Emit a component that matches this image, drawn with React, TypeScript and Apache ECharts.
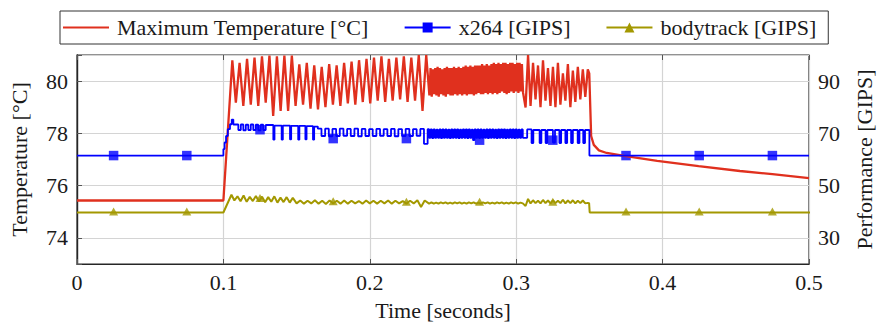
import React, { useEffect, useRef } from 'react';
import * as echarts from 'echarts';

// ---------- data (time in seconds) ----------
// Maximum temperature [°C] (left axis)
const TEMP_IDLE: [number, number][] = [[0, 75.43], [0.1, 75.43], [0.1061, 80.8]];
const TEMP_ZIG_A_START = 0.1085;
const TEMP_ZIG_A_STEP = 0.00255;
const TEMP_ZIG_A = [
  79.18, 80.7, 79.05, 80.85, 79.1, 80.9, 79.05, 80.95, 79.18, 80.98,
  78.67, 80.95, 78.86, 80.98, 78.86, 80.98, 79.05, 80.64, 79.1, 80.7,
  78.95, 80.6, 78.92, 80.55, 79.0, 80.65, 79.1, 80.6, 79.05, 80.7,
  79.15, 80.75, 79.1, 80.8, 79.2, 80.85, 79.15, 80.9, 79.25, 80.95,
  79.2, 80.85, 79.25, 80.9, 79.3, 80.95, 79.2, 80.9, 79.25, 81.0,
  78.86, 81.0,
];
const TEMP_DENSE_START = 0.2407;
const TEMP_DENSE_STEP = 0.0008;
const TEMP_DENSE = [
  79.45, 80.5, 79.4, 80.45, 79.5, 80.5, 79.45, 80.55, 79.4, 80.5,
  79.5, 80.45, 79.45, 80.5, 79.4, 80.55, 79.5, 80.5, 79.45, 80.5,
  79.45, 80.55, 79.5, 80.5, 79.45, 80.55, 79.5, 80.5, 79.45, 80.55,
  79.5, 80.6, 79.45, 80.55, 79.5, 80.6, 79.5, 80.55, 79.45, 80.6,
  79.5, 80.6, 79.55, 80.6, 79.5, 80.65, 79.5, 80.6, 79.55, 80.65,
  79.5, 80.6, 79.55, 80.65, 79.5, 80.7, 79.55, 80.65, 79.5, 80.7,
  79.55, 80.65, 79.6, 80.7, 79.55, 80.7, 79.5, 80.65, 79.55, 80.7,
  79.6, 80.7, 79.55, 80.65, 79.6, 80.7, 79.55, 80.7, 79.6, 80.65,
  79.55,
];
const TEMP_ZIG_C_START = 0.3064;
const TEMP_ZIG_C_STEP = 0.0017;
const TEMP_ZIG_C = [
  78.99, 81.0, 79.05, 80.7, 79.3, 80.6, 79.0, 80.8, 79.25, 80.5,
  79.05, 80.55, 79.0, 80.7, 79.1, 80.3, 79.25, 80.65, 79.0, 80.4,
  79.2, 80.55, 79.3, 80.45, 79.4, 80.45,
];
const TEMP_COOL: [number, number][] = [
  [0.3499, 80.3], [0.3512, 77.9], [0.353, 77.56], [0.3565, 77.35], [0.3618, 77.25],
  [0.3738, 77.14], [0.3963, 76.95], [0.4246, 76.75], [0.4528, 76.56], [0.475, 76.44], [0.5, 76.29],
];

// x264 performance [GIPS] (right axis, sample-and-hold)
const X264_START: [number, number][] = [
  [0, 61.5], [0.1, 64], [0.1008, 66.5], [0.1018, 69], [0.103, 71.6],
  [0.1045, 73.5], [0.1057, 75.3], [0.1068, 73.4],
];
const X264_A_START = 0.1085;
const X264_A_STEP = 0.0017;
const X264_A = [73.4, 71.3, 73.4, 71.2, 73.3, 71.3, 73.4, 71.3, 73.3, 71.2, 73.3, 71.3, 73.2];
const X264_B: [number, number][] = [
  [0.1341, 67.6], [0.1349, 73.0], [0.1398, 67.6], [0.1406, 73.0], [0.1455, 67.7], [0.1463, 72.9],
  [0.1511, 67.6], [0.1519, 72.9], [0.156, 67.7], [0.1568, 72.8], [0.1612, 67.6], [0.162, 72.6],
];
const X264_C_START = 0.1645;
const X264_C_STEP = 0.0025;
const X264_C = [
  71.8, 69.0, 71.8, 68.9, 71.7, 69.0, 71.8, 69.1, 71.7, 69.0,
  71.8, 68.9, 71.7, 69.0, 71.6, 69.0, 71.7, 69.1, 71.6, 69.0,
  71.7, 68.9, 71.6, 69.0, 71.7, 69.0, 71.6, 69.1, 71.7, 66.0,
  71.6,
];
const X264_DENSE_START = 0.2405;
const X264_DENSE_STEP = 0.001;
const X264_DENSE = [
  68.3, 71.5, 68.2, 71.5, 68.3, 71.4, 68.3, 71.5, 68.2, 71.5,
  68.3, 71.5, 68.3, 71.4, 68.2, 71.5, 68.3, 71.5, 68.3, 71.5,
  68.2, 71.4, 68.3, 71.5, 68.3, 71.5, 68.2, 71.5, 68.3, 71.4,
  67.4, 71.5, 68.3, 71.5, 68.2, 71.5, 68.3, 71.4, 68.3, 71.5,
  68.2, 71.5, 68.3, 71.5, 68.3, 71.4, 68.2, 71.5, 68.3, 71.5,
  68.3, 71.5, 68.2, 71.4, 68.3, 71.5, 68.3, 71.5, 68.2, 71.5,
  68.3, 71.4, 68.3, 71.5, 68.3,
];
const X264_END: [number, number][] = [
  [0.3055, 68.3], [0.3075, 71.5], [0.3105, 66.3], [0.3117, 71.3], [0.316, 66.3], [0.3172, 71.3],
  [0.3201, 66.3], [0.3213, 71.3], [0.3251, 66.5], [0.3265, 71.3], [0.3295, 66.3], [0.3307, 71.3],
  [0.3336, 66.3], [0.3348, 71.3], [0.3375, 66.3], [0.3387, 71.3], [0.342, 66.3], [0.3432, 71.3],
  [0.3458, 66.3], [0.347, 71.3], [0.35, 61.5], [0.5, 61.5],
];

// bodytrack performance [GIPS] (right axis)
const BODY_START: [number, number][] = [[0, 39.7], [0.1, 39.7], [0.1055, 46.5]];
const BODY_A_START = 0.1075;
const BODY_A_STEP = 0.0021;
const BODY_A = [
  44.3, 45.9, 44.0, 46.2, 43.8, 45.7, 44.1, 46.0, 43.9, 45.8,
  43.6, 45.6, 43.8, 45.9, 43.5, 45.4, 43.7, 45.6, 43.5, 45.3,
];
const BODY_B_START = 0.15;
const BODY_B_STEP = 0.0025;
const BODY_B = [
  43.2, 44.3, 43.1, 44.2, 43.2, 44.4, 43.1, 44.2, 43.0, 44.3,
  43.2, 44.2, 43.1, 44.3, 43.1, 44.2, 43.2, 44.1, 43.1, 44.3,
  43.2, 44.2, 43.1, 44.2, 43.2, 44.3, 43.1, 44.2, 43.2, 44.1,
  43.1, 44.2, 43.2, 44.4, 41.8, 44.3,
];
const BODY_DENSE_START = 0.2405;
const BODY_DENSE_STEP = 0.0016;
const BODY_DENSE = [
  43.1, 43.6, 43.1, 43.5, 43.1, 43.6, 43.2, 43.6, 43.1, 43.5,
  43.1, 43.6, 43.2, 43.6, 43.1, 43.5, 43.1, 43.6, 43.2, 43.6,
  43.1, 43.5, 43.1, 43.6, 43.2, 43.6, 43.1, 43.5, 43.1, 43.6,
  43.2, 43.6, 43.1, 43.5, 43.1, 43.6, 43.2, 43.6, 43.1, 43.5,
  43.2,
];
const BODY_C_START = 0.3064;
const BODY_C_STEP = 0.0017;
const BODY_C = [
  42.2, 44.9, 43.2, 44.4, 43.3, 44.2, 43.2, 44.5, 43.3, 44.3,
  43.2, 44.4, 43.3, 44.2, 43.3, 44.6, 43.2, 44.3, 43.3, 44.4,
  43.2, 44.2, 43.3, 44.3, 43.2, 43.4,
];
const BODY_END: [number, number][] = [[0.3498, 43.3], [0.3502, 39.7], [0.509, 39.7]];

// plot marks
const MARK_T = [0.025, 0.075, 0.125, 0.175, 0.225, 0.275, 0.325, 0.375, 0.425, 0.475];
const X264_MARK = [61.5, 61.5, 71.4, 68.0, 68.0, 67.4, 67.4, 61.5, 61.5, 61.5];
const BODY_MARK = [39.7, 39.7, 44.9, 43.6, 43.4, 43.4, 43.4, 39.7, 39.7, 39.7];

const NAMES = ['Maximum Temperature [°C]', 'x264 [GIPS]', 'bodytrack [GIPS]'];

// ---------- helpers ----------
const sampled = (start: number, step: number, values: number[]): [number, number][] =>
  values.map((v, i) => [Math.round((start + i * step) * 1e6) / 1e6, v]);

const FONT = 'Liberation Serif';
const RED = '#e0301e';
const BLUE = '#0000ff';
const OLIVE = '#a39800';

export default function App() {
  const ref = useRef<HTMLDivElement>(null);
  useEffect(() => {
    const chart = echarts.init(ref.current!, null, { renderer: 'svg' });

    const tempData = [
      ...TEMP_IDLE,
      ...sampled(TEMP_ZIG_A_START, TEMP_ZIG_A_STEP, TEMP_ZIG_A),
      ...sampled(TEMP_DENSE_START, TEMP_DENSE_STEP, TEMP_DENSE),
      ...sampled(TEMP_ZIG_C_START, TEMP_ZIG_C_STEP, TEMP_ZIG_C),
      ...TEMP_COOL,
    ];
    const x264Data = [
      ...X264_START,
      ...sampled(X264_A_START, X264_A_STEP, X264_A),
      ...X264_B,
      ...sampled(X264_C_START, X264_C_STEP, X264_C),
      ...sampled(X264_DENSE_START, X264_DENSE_STEP, X264_DENSE),
      ...X264_END,
    ];
    const bodyData = [
      ...BODY_START,
      ...sampled(BODY_A_START, BODY_A_STEP, BODY_A),
      ...sampled(BODY_B_START, BODY_B_STEP, BODY_B),
      ...sampled(BODY_DENSE_START, BODY_DENSE_STEP, BODY_DENSE),
      ...sampled(BODY_C_START, BODY_C_STEP, BODY_C),
      ...BODY_END,
    ];

    const labelStyle = { fontFamily: FONT, fontSize: 22, color: '#1a1a1a' };

    chart.setOption({
      animation: false,
      backgroundColor: '#ffffff',
      textStyle: { fontFamily: FONT },
      grid: {
        left: 75, right: 70, top: 55, bottom: 61,
        show: true, borderColor: '#262626', borderWidth: 1.2, backgroundColor: 'transparent',
      },
      legend: {
        data: [
          { name: NAMES[0], itemStyle: { opacity: 0 } },
          { name: NAMES[1] },
          { name: NAMES[2] },
        ],
        left: 60, top: 11,
        itemWidth: 46, itemHeight: 12.5, itemGap: 35,
        padding: [5.5, 12, 5.5, 2],
        borderColor: '#333', borderWidth: 1,
        textStyle: { ...labelStyle, padding: [0, 0, 0, 3] },
      },
      xAxis: [
        {
          type: 'value', min: 0, max: 0.5, interval: 0.1,
          name: 'Time [seconds]', nameLocation: 'middle', nameGap: 35,
          nameTextStyle: labelStyle,
          axisLine: { show: true, lineStyle: { color: '#262626', width: 1.2 } },
          axisTick: { show: true, inside: true, length: 5, lineStyle: { color: '#555' } },
          axisLabel: {
            ...labelStyle, margin: 7,
            formatter: (v: number) => (v === 0 ? '0' : (+v.toFixed(1)).toString()),
          },
          splitLine: { show: true, lineStyle: { color: '#d4d4d4', width: 1.2 } },
        },
        {
          type: 'value', min: 0, max: 0.5, interval: 0.1, position: 'top',
          axisLine: { show: false },
          axisTick: { show: true, inside: true, length: 5, lineStyle: { color: '#555' } },
          axisLabel: { show: false },
          splitLine: { show: false },
        },
      ],
      yAxis: [
        {
          type: 'value', min: 73, max: 81, splitNumber: 4, position: 'left',
          name: 'Temperature [°C]', nameLocation: 'middle', nameGap: 47,
          nameTextStyle: labelStyle,
          axisLine: { show: true, lineStyle: { color: '#262626', width: 1.2 } },
          axisTick: { show: true, inside: true, length: 5, lineStyle: { color: '#555' } },
          axisLabel: {
            ...labelStyle, margin: 9,
            formatter: (v: number) => {
              const r = Math.round(v);
              return r % 2 === 0 && r > 73 && r < 81 ? String(r) : '';
            },
          },
          splitLine: { show: true, lineStyle: { color: '#d4d4d4', width: 1.2 } },
        },
        {
          type: 'value', min: 20, max: 100, interval: 10, position: 'right',
          name: 'Performance [GIPS]', nameLocation: 'middle', nameGap: 44,
          nameTextStyle: labelStyle,
          axisLine: { show: true, lineStyle: { color: '#262626', width: 1.2 } },
          axisTick: { show: false },
          axisLabel: {
            ...labelStyle, margin: 9,
            formatter: (v: number) => {
              const r = Math.round(v);
              return r >= 30 && r <= 90 && (r - 30) % 20 === 0 ? String(r) : '';
            },
          },
          splitLine: { show: false },
        },
      ],
      series: [
        {
          name: NAMES[0], type: 'line', xAxisIndex: 0, yAxisIndex: 0, data: tempData,
          symbol: 'none', showSymbol: false,
          lineStyle: { color: RED, width: 2.3 }, itemStyle: { color: RED },
        },
        {
          name: NAMES[1], type: 'line', xAxisIndex: 0, yAxisIndex: 1, data: x264Data, step: 'end',
          symbol: 'rect', showSymbol: false,
          lineStyle: { color: BLUE, width: 1.8 }, itemStyle: { color: BLUE },
        },
        {
          name: NAMES[2], type: 'line', xAxisIndex: 0, yAxisIndex: 1, data: bodyData, clip: false,
          symbol: 'triangle', showSymbol: false,
          lineStyle: { color: OLIVE, width: 2 }, itemStyle: { color: OLIVE },
        },
        {
          name: NAMES[1], type: 'scatter', xAxisIndex: 0, yAxisIndex: 1,
          data: MARK_T.map((t, i) => [t, X264_MARK[i]]),
          symbol: 'rect', symbolSize: 9.5, itemStyle: { color: BLUE },
        },
        {
          name: NAMES[2], type: 'scatter', xAxisIndex: 0, yAxisIndex: 1,
          data: MARK_T.map((t, i) => [t, BODY_MARK[i]]),
          symbol: 'triangle', symbolSize: [9, 8], symbolOffset: [0, -1], itemStyle: { color: OLIVE },
        },
      ],
    });
    return () => chart.dispose();
  }, []);
  return (
    <div
      ref={ref}
      style={{ position: 'absolute', left: 0, top: 0, width: 883, height: 326, background: '#fff' }}
    />
  );
}
